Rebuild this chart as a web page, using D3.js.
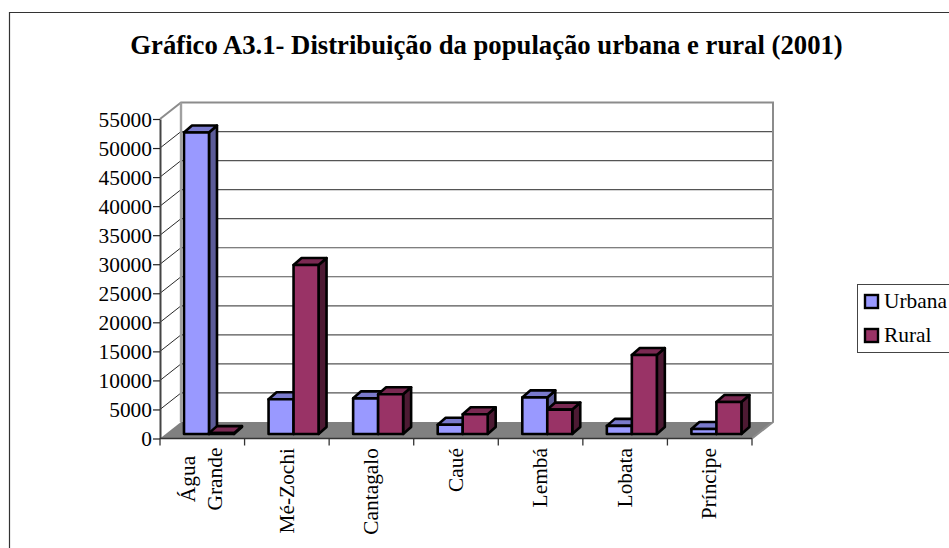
<!DOCTYPE html>
<html><head><meta charset="utf-8">
<script src="https://cdn.jsdelivr.net/npm/d3@7"></script>
<style>html,body{margin:0;padding:0;background:#fff;overflow:hidden}svg{display:block}text{font-family:"Liberation Serif",serif;fill:#000}</style>
</head><body><div id="c"></div>
<script>
const title = "Gráfico A3.1- Distribuição da população urbana e rural (2001)";
const categories = ["Água Grande","Mé-Zochi","Cantagalo","Caué","Lembá","Lobata","Príncipe"];
const categoryLines = [["Água","Grande"],["Mé-Zochi"],["Cantagalo"],["Caué"],["Lembá"],["Lobata"],["Príncipe"]];
const seriesNames = ["Urbana","Rural"];
const urbana = [51900,5970,6140,1600,6300,1400,850];
const rural = [150,29090,6830,3400,4200,13600,5500];
const yTicks = d3.range(0,55001,5000);
const palette = {Urbana:{front:"#9999ff",top:"#7a7acc",side:"#5c5c99"},Rural:{front:"#993366",top:"#7a2952",side:"#4d1a33"}};

const W=949,H=548;
const svg=d3.select("#c").append("svg").attr("width",W).attr("height",H);
const x=d3.scaleBand(categories,[160,752]);
const y=d3.scaleLinear([0,55000],[438.5,119]);
const inner=d3.scaleBand(seriesNames,[0,x.bandwidth()]).paddingOuter(0.692).paddingInner(0);
const wall={dx:21,dy:-16.5}, barOff={dx:6.7,dy:-4.5}, barDepth={dx:8,dy:-7};
const L=x.range()[0],R=x.range()[1];
const poly=p=>p.map(d=>d.join(",")).join(" ");
const labelSize=21.4;

// frame
svg.append("path").attr("d",`M9.5,548V12.5H949`).attr("fill","none").attr("stroke","#333").attr("stroke-width",1.2);
// title
svg.append("text").attr("x",486.5).attr("y",54).attr("text-anchor","middle").attr("font-size",26.7).attr("font-weight","bold").text(title);

// floor
svg.append("polygon").attr("points",poly([[L,y(0)],[R,y(0)],[R+wall.dx,y(0)+wall.dy],[L+wall.dx,y(0)+wall.dy]])).attr("fill","#808080");

// gridlines
const g=svg.append("g");
g.selectAll("line.back").data(yTicks.slice(1,-1)).join("line")
 .attr("x1",L+wall.dx).attr("x2",R+wall.dx).attr("y1",d=>y(d)+wall.dy).attr("y2",d=>y(d)+wall.dy)
 .attr("stroke","#555").attr("stroke-width",1.2);
g.selectAll("line.diag").data(yTicks.slice(1,-1)).join("line")
 .attr("x1",L).attr("x2",L+wall.dx).attr("y1",d=>y(d)).attr("y2",d=>y(d)+wall.dy)
 .attr("stroke","#111").attr("stroke-width",.9);
// walls outline
svg.append("path").attr("d",`M${L},${y(55000)}L${L+wall.dx},${y(55000)+wall.dy}H${R+wall.dx}V${y(0)+wall.dy}L${R},${y(0)}`)
 .attr("fill","none").attr("stroke","#8c8c8c").attr("stroke-width",2);
svg.append("line").attr("x1",L+wall.dx).attr("x2",L+wall.dx).attr("y1",y(55000)+wall.dy).attr("y2",y(0)+wall.dy).attr("stroke","#a0a0a0").attr("stroke-width",2.4);

// bars
const rows=[];
categories.forEach((c,i)=>{rows.push({c,s:"Urbana",v:urbana[i]});rows.push({c,s:"Rural",v:rural[i]});});
const base=y(0)+barOff.dy;
const h=v=>y(0)-y(v);
const bars=svg.append("g").selectAll("g").data(rows).join("g").attr("stroke","#000").attr("stroke-width",2.6).attr("stroke-linejoin","round");
const xl=d=>x(d.c)+inner(d.s)+barOff.dx, xr=d=>xl(d)+inner.bandwidth(), yt=d=>base-h(d.v);
bars.append("polygon").attr("fill",d=>palette[d.s].side)
 .attr("points",d=>poly([[xr(d),base],[xr(d)+barDepth.dx,base+barDepth.dy],[xr(d)+barDepth.dx,yt(d)+barDepth.dy],[xr(d),yt(d)]]));
bars.append("polygon").attr("fill",d=>palette[d.s].top)
 .attr("points",d=>poly([[xl(d),yt(d)],[xr(d),yt(d)],[xr(d)+barDepth.dx,yt(d)+barDepth.dy],[xl(d)+barDepth.dx,yt(d)+barDepth.dy]]));
bars.append("polygon").attr("fill",d=>palette[d.s].front)
 .attr("points",d=>poly([[xl(d),base],[xr(d),base],[xr(d),yt(d)],[xl(d),yt(d)]]));

// y axis
const ya=svg.append("g").attr("transform",`translate(${L},0)`).call(d3.axisLeft(y).tickValues(yTicks).tickSize(7).tickPadding(1).tickSizeOuter(0).tickFormat(d3.format("d")));
ya.selectAll("path").attr("stroke","#444").attr("stroke-width",2);
ya.selectAll("line").attr("stroke","#222").attr("stroke-width",1.2);
ya.selectAll("text").attr("font-size",labelSize).attr("font-family","Liberation Serif").attr("fill","#000").attr("dy","0.33em");
// x axis
const xa=svg.append("g").attr("transform",`translate(0,${y(0)})`);
xa.append("line").attr("x1",L).attr("x2",R).attr("stroke","#333").attr("stroke-width",1.5);
const edges=categories.map(c=>x(c)).concat([R]);
xa.selectAll("line.t").data(edges).join("line").attr("x1",d=>d).attr("x2",d=>d).attr("y1",0).attr("y2",7).attr("stroke","#333").attr("stroke-width",1.3);

// category labels
const lineGap=27, labelTop=448, singleOffset=49, multiOffset=35, multiCenter=479;
categories.forEach((c,i)=>{
  const lines=categoryLines[i], n=lines.length;
  lines.forEach((t,j)=>{
    const lab=svg.append("text").attr("font-size",labelSize).text(t);
    if(n>1) lab.attr("text-anchor","middle").attr("transform",`translate(${x(c)+multiOffset+j*lineGap},${multiCenter}) rotate(-90)`);
    else lab.attr("text-anchor","end").attr("transform",`translate(${x(c)+singleOffset},${labelTop}) rotate(-90)`);
  });
});

// legend
svg.append("rect").attr("x",857.5).attr("y",284.5).attr("width",110).attr("height",68).attr("fill","#fff").attr("stroke","#444").attr("stroke-width",1);
const leg=svg.append("g").selectAll("g").data(seriesNames).join("g").attr("transform",(d,i)=>`translate(865,${295+i*34})`);
leg.append("rect").attr("width",13).attr("height",13).attr("fill",d=>palette[d].front).attr("stroke","#000").attr("stroke-width",2.4);
leg.append("text").attr("x",19).attr("y",13).attr("font-size",labelSize).text(d=>d);
</script></body></html>
